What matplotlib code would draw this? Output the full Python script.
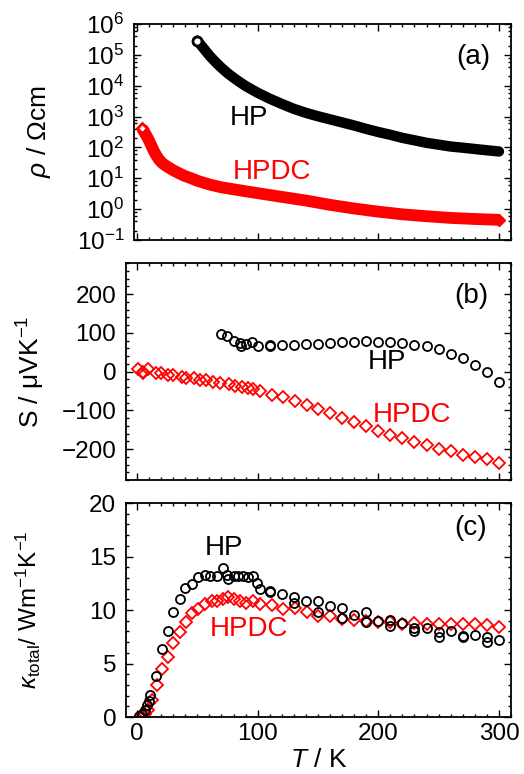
import matplotlib
matplotlib.use("Agg")
import matplotlib.pyplot as plt
from matplotlib.ticker import MultipleLocator, LogLocator, NullFormatter

# (a) resistivity, Ohm cm
T_rho_hp = [50, 55, 60, 65, 70, 75, 80, 85, 90, 100, 110, 120, 130, 140, 150,
            160, 170, 180, 190, 200, 210, 220, 230, 240, 250, 260, 270, 280, 290, 300]
rho_hp = [2.88e5, 1.66e5, 9.5e4, 5.9e4, 3.8e4, 2.57e4, 1.82e4, 1.32e4, 9.8e3, 5.9e3,
          3.8e3, 2.57e3, 1.78e3, 1.32e3, 1023, 813, 646, 513, 398, 316,
          257, 204, 170, 141, 123, 107, 98, 89, 81, 74]
T_rho_dc = [4, 6, 8, 10, 12, 14, 16, 18, 20, 22, 25, 30, 35, 40, 45, 50, 60, 70, 80,
            90, 100, 120, 140, 160, 180, 200, 220, 240, 260, 280, 300]
rho_dc = [427, 316, 234, 166, 112, 76, 55, 41.7, 33.9, 28.8, 24, 18.2, 14.5, 11.7,
          10, 8.3, 6.3, 5.1, 4.4, 3.8, 3.3, 2.5, 1.9, 1.38, 1.05, 0.83, 0.68, 0.59,
          0.52, 0.48, 0.45]

# (b) Seebeck coefficient, uV/K
T_S_hp = [70, 75, 80, 85, 86, 90, 95, 100, 110, 110, 120, 130, 140, 150, 160, 170,
          180, 190, 200, 210, 220, 230, 240, 250, 260, 270, 280, 290, 300]
S_hp = [97, 92, 79, 73, 67, 71, 75, 65, 68, 65, 68, 69, 70, 72, 74, 76,
        77, 79, 77, 77, 74, 69, 65, 57, 46, 34, 17, -1, -28]
T_S_dc = [1, 5, 5, 9, 16, 20, 26, 30, 37, 41, 47, 52, 57, 63, 69, 76, 81, 87, 92, 96,
          102, 112, 121, 131, 141, 150, 160, 170, 180, 190, 200, 210, 220, 230, 240,
          250, 260, 270, 280, 290, 300]
S_dc = [6, 0, -5, 6, -4, -4, -8, -10, -15, -17, -18, -21, -23, -27, -29, -33, -37, -40,
        -43, -46, -50, -60, -67, -75, -86, -96, -108, -119, -131, -141, -154, -165,
        -171, -181, -190, -200, -206, -215, -221, -227, -235]

# (c) total thermal conductivity, W/mK
T_k_hp = [2, 4, 6.6, 8.6, 10.2, 10.8, 15.7, 20.4, 26, 30.1, 35.6, 39.8, 45.3, 50.8,
          56.3, 60.5, 66, 71, 74.3, 75.7, 80.4, 84, 88.1, 92.2, 95.8, 99.2, 101.9,
          110, 110, 120, 130, 130, 140, 150, 150, 160, 170, 170, 180, 190, 190, 200,
          210, 210, 220, 230, 230, 240, 250, 250, 260, 270, 270, 280, 290, 290, 300]
k_hp = [0.05, 0.25, 0.7, 1.1, 1.5, 2.1, 3.85, 6.4, 8.05, 9.85, 11.0, 12.1, 12.4, 13.05,
        13.3, 13.15, 13.2, 13.9, 13.3, 12.9, 13.2, 13.2, 13.2, 13.05, 13.15, 12.5, 12.0,
        11.8, 11.65, 11.5, 11.2, 10.65, 10.8, 10.8, 9.85, 10.4, 10.15, 9.3, 9.5, 9.8,
        8.9, 8.95, 9.1, 8.5, 8.75, 8.3, 8.05, 8.3, 7.9, 7.5, 8.0, 7.6, 7.45, 7.65,
        7.45, 7.0, 7.2]
T_k_dc = [3, 6.6, 9.4, 12.2, 16.3, 20.4, 26, 30.1, 35.6, 40.6, 45.3, 50.8, 56.3, 61.9,
          66, 71, 75.7, 80.4, 85.3, 90.3, 95.8, 101.9, 111.6, 121.2, 130.9, 140.6,
          150.2, 160, 170, 180, 190, 200, 210, 220, 230, 240, 250, 260, 270, 280, 290, 300]
k_dc = [0.1, 0.25, 0.7, 1.6, 3.0, 4.45, 5.65, 6.95, 7.9, 8.9, 9.7, 10.1, 10.55, 10.8,
        10.85, 11.0, 11.2, 11.0, 10.8, 10.7, 10.8, 10.55, 10.45, 10.1, 10.15, 9.8,
        9.45, 9.45, 9.2, 9.05, 8.95, 8.9, 8.9, 8.65, 8.8, 8.7, 8.7, 8.65, 8.65, 8.7,
        8.6, 8.4]

plt.rcParams["font.family"] = ["Liberation Sans", "DejaVu Sans"]
plt.rcParams["mathtext.fontset"] = "custom"
plt.rcParams["mathtext.rm"] = "Liberation Sans"
plt.rcParams["mathtext.it"] = "Liberation Sans:italic"

RED = "#ff0000"
TICK_FS = 17.5
LABEL_FS = 19
TEXT_FS = 20

fig = plt.figure(figsize=(5.24, 7.74), dpi=100)
ax_a = fig.add_axes([0.2557, 0.6899, 0.7195, 0.2791])
ax_b = fig.add_axes([0.2405, 0.3798, 0.7347, 0.2804])
ax_c = fig.add_axes([0.2405, 0.0736, 0.7347, 0.2765])

for ax in (ax_a, ax_b, ax_c):
    for s in ax.spines.values():
        s.set_linewidth(1.3)
    ax.tick_params(which="both", direction="in", top=True, right=True,
                   labelsize=TICK_FS, width=1.0)
    ax.tick_params(which="major", length=5)
    ax.tick_params(which="minor", length=2.5)
    ax.tick_params(axis="y", pad=7)
    ax.tick_params(axis="x", pad=4.5)
    ax.xaxis.set_major_locator(MultipleLocator(100))
    ax.xaxis.set_minor_locator(MultipleLocator(10))

# (a)
ax_a.plot(T_rho_hp, rho_hp, color="black", lw=7.5, solid_capstyle="round", zorder=2)
ax_a.plot(T_rho_hp[0], rho_hp[0], "o", ms=6.5, mfc="white", mec="black", mew=2, zorder=3)
ax_a.plot(T_rho_dc, rho_dc, color=RED, lw=8.5, solid_capstyle="butt", zorder=2)
ax_a.plot(T_rho_dc[-1], rho_dc[-1], "D", ms=6.5, color=RED, zorder=2)
ax_a.plot(T_rho_dc[0], rho_dc[0], "D", ms=5.5, mfc="white", mec=RED, mew=2, zorder=3)
ax_a.set_yscale("log")
ax_a.set_ylim(1e-1, 1e6)
ax_a.set_xlim(-2.5, 310)
ax_a.yaxis.set_major_locator(LogLocator(base=10, numticks=10))
ax_a.yaxis.set_minor_locator(LogLocator(base=10, subs=(2, 4, 6, 8), numticks=10))
ax_a.yaxis.set_minor_formatter(NullFormatter())
ax_a.set_xticklabels([])
ax_a.set_ylabel(r"$\rho$ / Ωcm", fontsize=LABEL_FS)
ax_a.yaxis.set_label_coords(-0.215, 0.5)
ax_a.text(77, 10 ** 2.94, "HP", fontsize=TEXT_FS, va="center", ha="left")
ax_a.text(79, 10 ** 1.21, "HPDC", fontsize=TEXT_FS, va="center", ha="left", color=RED)
ax_a.text(292.5, 10 ** 4.92, "(a)", fontsize=TEXT_FS, va="center", ha="right")

# (b)
ax_b.plot(T_S_hp, S_hp, "o", ms=6.5, mfc="none", mec="black", mew=1.3)
ax_b.plot(T_S_dc, S_dc, "D", ms=6.2, mfc="none", mec=RED, mew=1.3)
ax_b.set_xlim(-9.1, 310)
ax_b.set_ylim(-280, 280)
ax_b.yaxis.set_major_locator(MultipleLocator(100))
ax_b.yaxis.set_minor_locator(MultipleLocator(20))
ax_b.set_yticks([-200, -100, 0, 100, 200])
ax_b.set_xticklabels([])
ax_b.set_ylabel(r"S / μVK$^{\mathregular{-1}}$", fontsize=LABEL_FS)
ax_b.yaxis.set_label_coords(-0.205, 0.5)
ax_b.text(191, 25, "HP", fontsize=TEXT_FS, va="center", ha="left")
ax_b.text(195, -111, "HPDC", fontsize=TEXT_FS, va="center", ha="left", color=RED)
ax_b.text(291, 194, "(b)", fontsize=TEXT_FS, va="center", ha="right")

# (c)
ax_c.plot(T_k_dc, k_dc, "D", ms=6.2, mfc="none", mec=RED, mew=1.3)
ax_c.plot(T_k_hp, k_hp, "o", ms=6.5, mfc="none", mec="black", mew=1.3)
ax_c.set_xlim(-9.1, 310)
ax_c.set_ylim(0, 20)
ax_c.yaxis.set_major_locator(MultipleLocator(5))
ax_c.yaxis.set_minor_locator(MultipleLocator(1))
ax_c.set_ylabel(r"$\kappa_{\mathregular{total}}$/ Wm$^{\mathregular{-1}}$K$^{\mathregular{-1}}$",
                fontsize=17.5)
ax_c.yaxis.set_label_coords(-0.215, 0.5)
ax_c.set_xlabel(r"$T$ / K", fontsize=LABEL_FS, labelpad=2)
ax_c.text(56, 15.8, "HP", fontsize=TEXT_FS, va="center", ha="left")
ax_c.text(60.5, 8.25, "HPDC", fontsize=TEXT_FS, va="center", ha="left", color=RED)
ax_c.text(290, 17.7, "(c)", fontsize=TEXT_FS, va="center", ha="right")

fig.savefig("out.png", dpi=100)
